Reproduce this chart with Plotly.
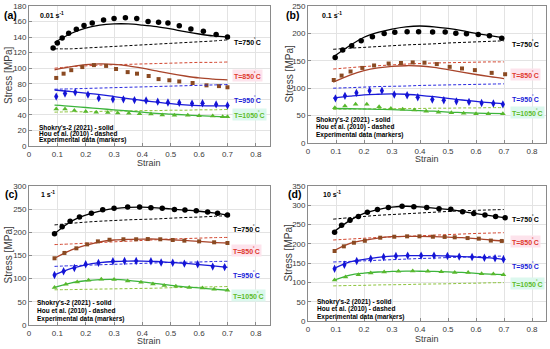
import plotly.graph_objects as go

# ---------------- data ----------------
TEMPS = ["750", "850", "950", "1050"]
MODEL_X = [0.09, 0.15, 0.2, 0.25, 0.3, 0.35, 0.4, 0.45, 0.5, 0.55, 0.6, 0.65, 0.7]
X_TICKS = [0, 0.1, 0.2, 0.3, 0.4, 0.5, 0.6, 0.7, 0.8]
RATE_LABELS = ["0.01 s<sup>-1</sup>", "0.1 s<sup>-1</sup>", "1 s<sup>-1</sup>", "10 s<sup>-1</sup>"]
PANEL_LABELS = ["(a)", "(b)", "(c)", "(d)"]
Y_MAX = [180, 250, 300, 350]
Y_DTICK = [20, 50, 50, 50]
LEGEND_LINES = ["Shokry's-2 (2021) - solid", "Hou et al. (2010) - dashed", "Experimental data (markers)"]
X_TITLE = "Strain"
Y_TITLE = "Stress [MPa]"

# Panel (a) 0.01 s^-1
A_X750 = [0.085, 0.10, 0.117, 0.14, 0.167, 0.194, 0.223, 0.263, 0.30, 0.34, 0.38, 0.42, 0.457, 0.49, 0.53, 0.571, 0.615, 0.66, 0.70]
A_Y750 = [126, 132.5, 139, 145, 150, 155, 158, 162, 164, 165, 164, 160, 159, 158, 154.5, 150.5, 147.5, 143.5, 140]
A_X850 = [0.096, 0.122, 0.149, 0.188, 0.229, 0.272, 0.307, 0.348, 0.381, 0.422, 0.457, 0.495, 0.53, 0.577, 0.626, 0.67, 0.70]
A_Y850 = [87.5, 93, 97.5, 101.5, 104, 103, 99, 95, 93, 90, 86, 84.5, 83, 81, 78, 77, 75.5]
A_X950 = [0.096, 0.127, 0.163, 0.208, 0.246, 0.296, 0.333, 0.372, 0.413, 0.454, 0.49, 0.53, 0.575, 0.612, 0.66, 0.70]
A_Y950 = [63.5, 67.5, 69, 66, 61.5, 60, 60, 59, 58.5, 57, 56, 55.5, 54.5, 55, 53.5, 52]
A_X1050 = [0.096, 0.127, 0.16, 0.2, 0.237, 0.278, 0.313, 0.352, 0.39, 0.43, 0.47, 0.513, 0.56, 0.60, 0.648, 0.683, 0.70]
A_Y1050 = [47.5, 47.5, 45.5, 44.5, 43.5, 43, 42.5, 42, 41.5, 41, 40, 39.5, 39.5, 39, 38.5, 37.5, 37.5]
A_S750 = [133, 145, 151.5, 155.5, 157, 157, 155.5, 153.5, 150.5, 147, 144, 141.5, 140]
A_D750 = [125, 125, 126, 127, 128, 129, 130, 131, 132, 133, 134, 135, 136.5]
A_S850 = [98, 102, 104.5, 105.5, 105, 103, 100, 96.5, 93, 90, 87.5, 86, 85]
A_D850 = [100, 102, 103, 104, 104.5, 105, 105.5, 106, 106.5, 107, 107.5, 107.5, 108]
A_S950 = [72, 70, 68, 66, 63.5, 61, 58.5, 56.5, 54.5, 53, 52, 51.5, 51.5]
A_D950 = [73, 73.5, 74, 74.5, 75, 75.5, 76, 76.5, 77, 77.5, 78, 78.5, 79]
A_S1050 = [52.5, 51, 49.5, 48, 46.5, 45, 43.5, 42, 41, 40, 39, 38, 37.5]
A_D1050 = [43.5, 44, 44, 44.5, 45, 45, 45.5, 45.5, 46, 46, 46.5, 46.5, 47]

# Panel (b) 0.1 s^-1
B_X750 = [0.097, 0.124, 0.156, 0.19, 0.23, 0.272, 0.31, 0.354, 0.395, 0.445, 0.49, 0.528, 0.566, 0.608, 0.648, 0.692]
B_Y750 = [156, 169.5, 177.5, 186.5, 194, 200, 202, 203, 203, 202.5, 202.5, 200.5, 199.5, 198, 195.5, 191]
B_X850 = [0.092, 0.12, 0.152, 0.194, 0.236, 0.288, 0.332, 0.374, 0.416, 0.46, 0.506, 0.55, 0.596, 0.656, 0.704]
B_Y850 = [115, 123, 130.5, 137, 141.5, 145, 146, 147, 146.5, 144, 139, 136, 133, 128, 125.5]
B_X950 = [0.098, 0.132, 0.173, 0.22, 0.264, 0.308, 0.354, 0.392, 0.444, 0.485, 0.53, 0.575, 0.62, 0.662, 0.696]
B_Y950 = [81.5, 86, 91.5, 95.5, 95.5, 88.5, 87, 83.5, 79.5, 78, 76, 75, 73, 72, 70.5]
B_X1050 = [0.096, 0.132, 0.17, 0.21, 0.254, 0.296, 0.338, 0.38, 0.422, 0.466, 0.512, 0.556, 0.60, 0.644, 0.696]
B_Y1050 = [64.5, 67.5, 70.5, 70.5, 66, 63, 61.5, 60, 58, 56, 55, 54.5, 53.5, 53.5, 53.5]
B_S750 = [157, 178, 193, 202, 208, 212, 213.5, 212, 209, 205, 200, 196, 192]
B_D750 = [171, 173, 174.5, 176, 177.5, 179, 180, 181, 182.5, 183.5, 184.5, 185.5, 186.5]
B_S850 = [111, 124, 132, 137, 140, 141, 140.5, 138, 134, 129.5, 125, 121, 117.5]
B_D850 = [135, 137.5, 139.5, 141, 142.5, 144, 145, 146, 146.5, 147, 147.5, 148, 148]
B_S950 = [82, 85.5, 88, 89, 89.5, 89, 87, 84.5, 81.5, 78.5, 76, 73.5, 71.5]
B_D950 = [100, 101, 102, 103, 103.5, 104, 105, 105.5, 106, 106.5, 107, 107.5, 108]
B_S1050 = [63, 62.5, 62, 61.5, 61, 60, 59, 58, 56.5, 55.5, 54.5, 54, 53.5]
B_D1050 = [61.5, 62, 62, 62.5, 62.5, 63, 63, 63.5, 63.5, 64, 64, 64.5, 64.5]

# Panel (c) 1 s^-1
C_X750 = [0.09, 0.117, 0.145, 0.178, 0.22, 0.26, 0.30, 0.348, 0.39, 0.43, 0.47, 0.513, 0.55, 0.59, 0.63, 0.665, 0.70]
C_Y750 = [197, 212, 224, 233, 241, 249, 252, 254.5, 254.5, 253, 252, 249.5, 248, 246.5, 244, 241, 237.5]
C_X850 = [0.09, 0.125, 0.167, 0.205, 0.243, 0.284, 0.333, 0.378, 0.419, 0.463, 0.507, 0.548, 0.60, 0.653, 0.70]
C_Y850 = [144, 155.5, 165.5, 174, 180.5, 184, 185, 185, 185.5, 185, 183.5, 182, 180.5, 178.5, 177]
C_X950 = [0.09, 0.122, 0.16, 0.2, 0.245, 0.296, 0.337, 0.378, 0.43, 0.466, 0.507, 0.548, 0.595, 0.648, 0.69]
C_Y950 = [108, 116, 123, 131, 134, 137.5, 138, 138, 137.5, 135, 134.5, 132.5, 131, 126, 125]
C_X1050 = [0.09, 0.13, 0.17, 0.21, 0.255, 0.30, 0.348, 0.395, 0.437, 0.477, 0.518, 0.565, 0.612, 0.653, 0.70]
C_Y1050 = [81, 88, 93, 96.5, 98.5, 98, 95, 92, 88.5, 85.5, 83.5, 81, 80, 77, 75]
C_S750 = [197, 224, 237, 246, 251, 254, 254.5, 253, 250.5, 248, 245.5, 242, 237.5]
C_D750 = [216, 219.5, 222, 224, 225.5, 227, 228, 229, 230.5, 232, 233, 234.5, 236]
C_S850 = [144, 162, 172, 179.5, 183.5, 185, 185.5, 185.5, 184, 182.5, 180.5, 178.5, 177]
C_D850 = [173.5, 175, 176.5, 178, 179.5, 181, 182.5, 184, 185.5, 186.5, 187.5, 188.5, 189]
C_S950 = [108, 122, 130, 134.5, 137, 138, 138, 137, 135, 133, 130.5, 127.5, 124.5]
C_D950 = [126.5, 128, 129, 130, 131, 132, 133, 134, 135, 135.5, 136, 137, 137.5]
C_S1050 = [81, 91, 95.5, 98, 98.5, 96.5, 93, 89.5, 85.5, 82.5, 80, 77.5, 75]
C_D1050 = [76, 76.5, 77, 77.5, 78, 78.5, 79, 79.5, 80.5, 81, 81.5, 82.5, 83]

# Panel (d) 10 s^-1
D_X750 = [0.095, 0.12, 0.15, 0.18, 0.212, 0.248, 0.287, 0.336, 0.378, 0.424, 0.468, 0.51, 0.552, 0.592, 0.632, 0.67, 0.704]
D_Y750 = [230, 248, 261, 271, 282, 289, 294, 297.5, 296.5, 294, 291, 289.5, 283.5, 279, 275, 271, 268]
D_X850 = [0.095, 0.128, 0.164, 0.203, 0.258, 0.308, 0.354, 0.398, 0.446, 0.488, 0.524, 0.57, 0.61, 0.653, 0.692]
D_Y850 = [181.5, 193.5, 203, 208, 216, 218.5, 219.5, 219.5, 218.5, 218, 217, 215, 213.5, 208.5, 207.5]
D_X950 = [0.095, 0.13, 0.174, 0.224, 0.27, 0.314, 0.356, 0.404, 0.45, 0.498, 0.54, 0.586, 0.63, 0.668, 0.698]
D_Y950 = [135.5, 146, 155.5, 161.5, 166, 168.5, 169.5, 169.5, 169.5, 168.5, 167, 166, 164, 162.5, 160]
D_X1050 = [0.095, 0.134, 0.18, 0.224, 0.272, 0.323, 0.374, 0.428, 0.476, 0.524, 0.572, 0.62, 0.662, 0.698]
D_Y1050 = [106.5, 114, 120, 124.5, 127, 129, 129.5, 129, 128, 126, 125.5, 122.5, 122, 120]
D_S750 = [230, 261, 279, 289, 295, 297.5, 296, 292.5, 289.5, 284, 278.5, 273, 268]
D_D750 = [264, 268, 271, 274, 276, 278, 280, 282, 284, 285.5, 287, 288, 289]
D_S850 = [181, 201, 209, 215, 218.5, 219.5, 219.5, 218.5, 217.5, 216, 213.5, 210, 207]
D_D850 = [210, 212.5, 214.5, 216.5, 218, 219.5, 221, 222.5, 224, 225.5, 227, 228, 229]
D_S950 = [135, 153, 160, 165, 168, 169.5, 169.5, 169.5, 168.5, 167, 165.5, 163.5, 160]
D_D950 = [153, 154.5, 156, 157.5, 159, 160.5, 162, 163, 164.5, 165.5, 166.5, 167.5, 168.5]
D_S1050 = [105, 119, 124, 127, 128.5, 129.5, 129, 128.5, 127.5, 126, 123.5, 121.5, 120]
D_D1050 = [91, 92, 92.5, 93.5, 94, 94.5, 95.5, 96, 96.5, 97.5, 98, 99, 99.5]

# Temperature label anchor points (stress) per panel
A_LBL_Y = [134, 90, 60, 40.5]
B_LBL_Y = [181.5, 125.5, 82, 56.5]
C_LBL_Y = [208.5, 160, 110, 64.5]
D_LBL_Y = [266, 205.5, 143.5, 97.7]
LBL_X = [0.715, 0.72, 0.713, 0.72]

# ---------------- styles ----------------
MARKER_COLOR = {"750": "#000000", "850": "#8a4a22", "950": "#1414d6", "1050": "#58b82c"}
SOLID_COLOR = {"750": "#000000", "850": "#a8442a", "950": "#1a1ad8", "1050": "#3cb43c"}
DASH_COLOR = {"750": "#000000", "850": "#d2452e", "950": "#2828e0", "1050": "#8cc43a"}
TEXT_COLOR = {"750": "#000000", "850": "#e0382c", "950": "#1a1ad8", "1050": "#5cbc2a"}
TEXT_BG = {"750": "rgba(0,0,0,0)", "850": "#fde3ec", "950": "rgba(0,0,0,0)", "1050": "#dcf8ee"}
SYMBOL = {"750": "circle", "850": "square", "950": "diamond-tall", "1050": "triangle-up"}
MSIZE = {"750": 5.5, "850": 4, "950": 6, "1050": 5}

panels = [
    dict(exp={"750": (A_X750, A_Y750), "850": (A_X850, A_Y850), "950": (A_X950, A_Y950), "1050": (A_X1050, A_Y1050)},
         sol={"750": A_S750, "850": A_S850, "950": A_S950, "1050": A_S1050},
         dsh={"750": A_D750, "850": A_D850, "950": A_D950, "1050": A_D1050}, lbl=A_LBL_Y),
    dict(exp={"750": (B_X750, B_Y750), "850": (B_X850, B_Y850), "950": (B_X950, B_Y950), "1050": (B_X1050, B_Y1050)},
         sol={"750": B_S750, "850": B_S850, "950": B_S950, "1050": B_S1050},
         dsh={"750": B_D750, "850": B_D850, "950": B_D950, "1050": B_D1050}, lbl=B_LBL_Y),
    dict(exp={"750": (C_X750, C_Y750), "850": (C_X850, C_Y850), "950": (C_X950, C_Y950), "1050": (C_X1050, C_Y1050)},
         sol={"750": C_S750, "850": C_S850, "950": C_S950, "1050": C_S1050},
         dsh={"750": C_D750, "850": C_D850, "950": C_D950, "1050": C_D1050}, lbl=C_LBL_Y),
    dict(exp={"750": (D_X750, D_Y750), "850": (D_X850, D_Y850), "950": (D_X950, D_Y950), "1050": (D_X1050, D_Y1050)},
         sol={"750": D_S750, "850": D_S850, "950": D_S950, "1050": D_S1050},
         dsh={"750": D_D750, "850": D_D850, "950": D_D950, "1050": D_D1050}, lbl=D_LBL_Y),
]

W, H = 550, 349
# plot-area boxes in pixels: (left, right, top, bottom)
BOXES = [(29, 270, 6, 146), (308, 546, 6, 143), (29, 270, 186, 325), (308, 546, 186, 321)]
LEGEND_PX = [(37, [128, 134, 140]), (314, [120, 127, 135]), (35, [303, 311, 319]), (315, [302, 309, 317])]
PLABEL_PX = [(2, 15), (284, 15), (3, 194), (286, 194)]
RATE_PX = [(38, 15), (320, 15), (39, 194), (321, 194)]
XTITLE_Y = [163, 159, 341, 339]
YTITLE_X = [8, 289, 8, 288]

FONT = "Liberation Sans, Arial, sans-serif"
fig = go.Figure()
layout = dict(width=W, height=H, margin=dict(l=0, r=0, t=0, b=0, autoexpand=False),
              paper_bgcolor="white", plot_bgcolor="white", showlegend=False, template="none",
              font=dict(family=FONT, color="#333333", size=8))
annotations = []

for i, p in enumerate(panels):
    n = "" if i == 0 else str(i + 1)
    xa, ya = "x" + n, "y" + n
    L, R, T, B = BOXES[i]
    for t in TEMPS:
        fig.add_trace(go.Scatter(x=MODEL_X, y=p["dsh"][t], mode="lines", xaxis=xa, yaxis=ya,
                                 line=dict(color=DASH_COLOR[t], width=1, dash="3px,2px", shape="spline")))
        fig.add_trace(go.Scatter(x=MODEL_X, y=p["sol"][t], mode="lines", xaxis=xa, yaxis=ya,
                                 line=dict(color=SOLID_COLOR[t], width=1.3, shape="spline")))
        ex, ey = p["exp"][t]
        fig.add_trace(go.Scatter(x=ex, y=ey, mode="markers", xaxis=xa, yaxis=ya,
                                 marker=dict(symbol=SYMBOL[t], size=MSIZE[t], color=MARKER_COLOR[t],
                                             line=dict(width=0))))
        k = TEMPS.index(t)
        annotations.append(dict(x=LBL_X[i], y=p["lbl"][k], xref=xa, yref=ya, xanchor="left", yanchor="middle",
                                text="T=" + t + "<sup>˚</sup>C", showarrow=False, bgcolor=TEXT_BG[t],
                                borderpad=1,
                                font=dict(family=FONT, size=7, color=TEXT_COLOR[t], weight="bold")))
    axis_common = dict(showgrid=True, gridcolor="#e3e3e3", gridwidth=0.8, zeroline=False,
                       showline=True, mirror=True, linecolor="#8a8a8a", linewidth=0.8,
                       ticks="inside", ticklen=3, tickcolor="#8a8a8a", automargin=False,
                       tickfont=dict(family=FONT, size=8, color="#3a3a3a"))
    layout["xaxis" + n] = dict(axis_common, domain=[L / W, R / W], range=[0, 0.85], anchor=ya,
                               tickvals=X_TICKS, ticktext=[("%g" % v) for v in X_TICKS])
    layout["yaxis" + n] = dict(axis_common, domain=[1 - B / H, 1 - T / H], range=[0, Y_MAX[i]], anchor=xa,
                               dtick=Y_DTICK[i], tick0=0)
    # axis titles
    annotations.append(dict(x=(L + R) / 2 / W, y=1 - XTITLE_Y[i] / H, xref="paper", yref="paper",
                            xanchor="center", yanchor="middle", text=X_TITLE, showarrow=False,
                            font=dict(family=FONT, size=9, color="#3a3a3a")))
    annotations.append(dict(x=YTITLE_X[i] / W, y=1 - (T + B) / 2 / H, xref="paper", yref="paper",
                            xanchor="center", yanchor="middle", text=Y_TITLE, showarrow=False, textangle=-90,
                            font=dict(family=FONT, size=10, color="#3a3a3a")))
    lx, lys = LEGEND_PX[i]
    for line_txt, ly in zip(LEGEND_LINES, lys):
        annotations.append(dict(x=lx / W, y=1 - ly / H, xref="paper", yref="paper", xanchor="left", yanchor="middle",
                                text=line_txt, showarrow=False,
                                font=dict(family=FONT, size=6.5, color="#000000", weight="bold")))
    px, py = PLABEL_PX[i]
    annotations.append(dict(x=px / W, y=1 - py / H, xref="paper", yref="paper", xanchor="left", yanchor="middle",
                            text=PANEL_LABELS[i], showarrow=False,
                            font=dict(family=FONT, size=10.5, color="#000000", weight="bold")))
    rx, ry = RATE_PX[i]
    annotations.append(dict(x=rx / W, y=1 - ry / H, xref="paper", yref="paper", xanchor="left", yanchor="middle",
                            text=RATE_LABELS[i], showarrow=False,
                            font=dict(family=FONT, size=7, color="#000000", weight="bold")))

layout["annotations"] = annotations
fig.update_layout(**layout)
fig.write_html("out.html", config={"displayModeBar": False},
               post_script="document.body.style.margin='0';document.body.style.overflow='hidden';")
